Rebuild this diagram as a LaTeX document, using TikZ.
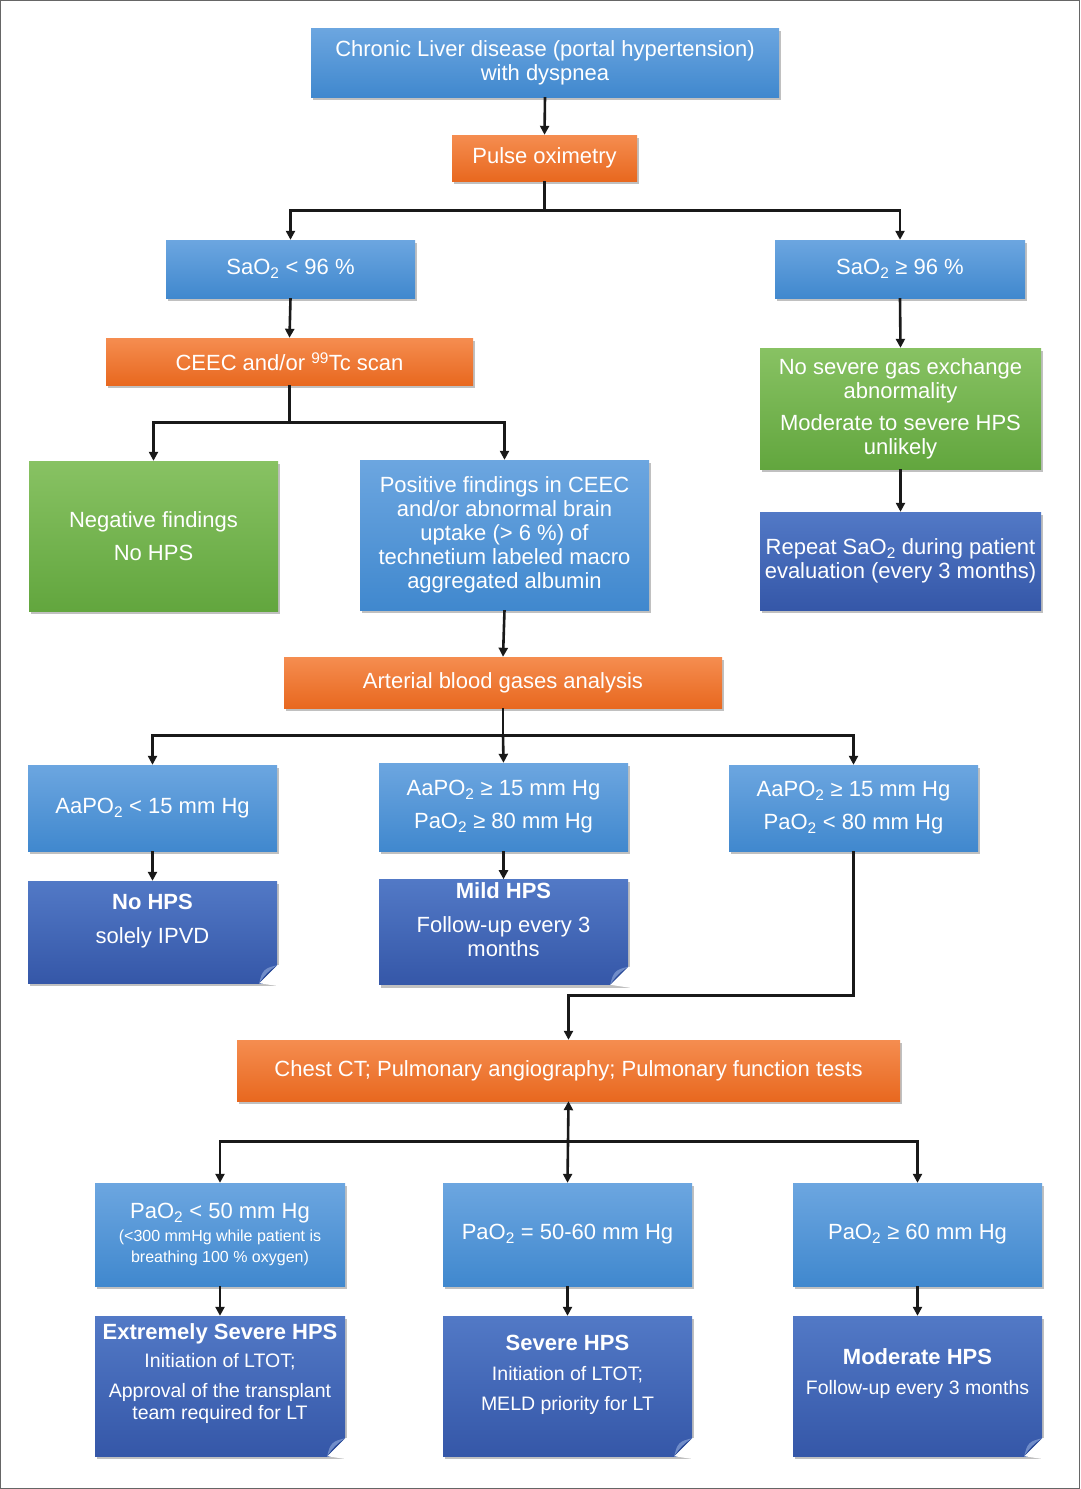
\documentclass[tikz,border=0pt]{standalone}
\usepackage{fontspec}
\setmainfont{Liberation Sans}
\usetikzlibrary{arrows.meta,shadows}
\definecolor{bT}{HTML}{6CA6E0}
\definecolor{bB}{HTML}{4088CE}
\definecolor{oT}{HTML}{F58D50}
\definecolor{oB}{HTML}{E8681F}
\definecolor{gT}{HTML}{88C263}
\definecolor{gB}{HTML}{62A63E}
\definecolor{dT}{HTML}{5279C6}
\definecolor{dB}{HTML}{3557A8}
\definecolor{foldc}{HTML}{2A4A98}
\newcommand\foldcorner[1]{%
  \fill[white] ([xshift=-18pt]#1.south east) -- ([xshift=2pt,yshift=-3pt]#1.south east) -- ([xshift=2pt,yshift=18pt]#1.south east) -- ([yshift=18pt]#1.south east) -- cycle;
  \fill[foldc] ([xshift=-18pt]#1.south east) .. controls ([xshift=-13pt,yshift=8pt]#1.south east) and ([xshift=-8pt,yshift=13pt]#1.south east) .. ([yshift=18pt]#1.south east) -- cycle;
  \fill[dT!60!white,opacity=0.6] ([xshift=-18pt]#1.south east) .. controls ([xshift=-15pt,yshift=13pt]#1.south east) and ([xshift=-13pt,yshift=15pt]#1.south east) .. ([yshift=18pt]#1.south east) .. controls ([xshift=-8pt,yshift=13pt]#1.south east) and ([xshift=-13pt,yshift=8pt]#1.south east) .. cycle;}
\tikzset{
  box/.style={draw=none, align=center, text=white, inner sep=3pt,
    font=\fontsize{22}{24}\selectfont,
    drop shadow={shadow xshift=2pt,shadow yshift=-3pt,opacity=0.35,fill=black!70}},
  bluebox/.style={box, top color=bT, bottom color=bB},
  orangebox/.style={box, top color=oT, bottom color=oB},
  greenbox/.style={box, top color=gT, bottom color=gB},
  darkbox/.style={box, top color=dT, bottom color=dB},
  sz/.style 2 args={minimum width=#1pt, minimum height=#2pt},
  conn/.style={draw=black!90, line width=2.6pt},
  arr/.style={conn, -{Triangle[length=9pt,width=9pt]}},
  darr/.style={conn, {Triangle[length=9pt,width=9pt]}-{Triangle[length=9pt,width=9pt]}},
}
\newcommand\sub[1]{\textsubscript{#1}}
\newcommand\smallf{\fontsize{16}{19}\selectfont}
\newcommand\midf{\fontsize{19.5}{24}\selectfont}
\newcommand\midtf{\fontsize{19.5}{22}\selectfont}
\begin{document}
\begin{tikzpicture}[x=1pt,y=-1pt]
\useasboundingbox (0,0) rectangle (1080,1489);
\fill[white] (0,0) rectangle (1080,1489);
\draw[black!60, line width=1.2pt] (0.6,0.6) rectangle (1079.4,1488.4);

% row 1
\node[bluebox, sz={468}{69}] (top) at (545,62.5) {Chronic Liver disease (portal hypertension)\\with dyspnea};
\node[orangebox, sz={185}{46}] (pulse) at (544.5,158) {Pulse oximetry};
\node[bluebox, sz={249}{58}] (sl) at (290.5,269) {SaO\sub{2} < 96 \%};
\node[bluebox, sz={250}{58}] (sr) at (900,269) {SaO\sub{2} ≥ 96 \%};
\node[orangebox, sz={367}{47}] (ceec) at (289.5,361.5) {CEEC and/or \textsuperscript{99}Tc scan};
\node[greenbox, sz={281}{121}] (nosev) at (900.5,408.5) {No severe gas exchange\\abnormality\\[8pt]Moderate to severe HPS\\unlikely};
\node[darkbox, sz={281}{98}] (rep) at (900.5,561) {Repeat SaO\sub{2} during patient\\evaluation (every 3 months)};
\node[greenbox, sz={249}{150}] (neg) at (153.5,536) {Negative findings\\[9pt]No HPS};
\node[bluebox, sz={289}{150}] (pos) at (504.5,535) {Positive findings in CEEC\\and/or abnormal brain\\uptake (> 6 \%) of\\technetium labeled macro\\aggregated albumin};
\node[orangebox, sz={438}{51}] (abg) at (503,682.5) {Arterial blood gases analysis};

\node[bluebox, sz={249}{86}] (a1) at (152.5,808) {AaPO\sub{2} < 15 mm Hg};
\node[bluebox, sz={249}{88}] (a2) at (503.5,807) {AaPO\sub{2} ≥ 15 mm Hg\\[9pt]PaO\sub{2} ≥ 80 mm Hg};
\node[bluebox, sz={249}{86}] (a3) at (853.5,808) {AaPO\sub{2} ≥ 15 mm Hg\\[9pt]PaO\sub{2} < 80 mm Hg};

\node[darkbox, sz={249}{102}] (d1) at (152.5,932) {\textbf{No HPS}\\[10pt]solely IPVD\\[-4pt]\strut};
\node[darkbox, sz={249}{102}] (d2) at (503.5,932) {\textbf{Mild HPS}\\[10pt]Follow-up every 3\\months\\[-6pt]\strut};
\foldcorner{d1}
\foldcorner{d2}

\node[orangebox, sz={663}{61}] (ct) at (568.5,1070.5) {Chest CT; Pulmonary angiography; Pulmonary function tests};

\node[bluebox, sz={250}{103}] (p1) at (220,1234.5) {PaO\sub{2} < 50 mm Hg\\[-1pt]\smallf (<300 mmHg while patient is\\[-3pt]\smallf breathing 100 \% oxygen)};
\node[bluebox, sz={249}{103}] (p2) at (567.5,1234.5) {PaO\sub{2} = 50-60 mm Hg};
\node[bluebox, sz={249}{103}] (p3) at (917.5,1234.5) {PaO\sub{2} ≥ 60 mm Hg};

\node[darkbox, sz={250}{140}] (e1) at (220,1386) {\textbf{Extremely Severe HPS}\\[4pt]\midf Initiation of LTOT;\\[6pt]\midf Approval of the transplant\\[-2pt]\midf team required for LT\\[-2pt]\strut};
\node[darkbox, sz={249}{140}] (e2) at (567.5,1386) {\textbf{Severe HPS}\\[6pt]\midf Initiation of LTOT;\\[6pt]\midf MELD priority for LT\\[-4pt]\strut};
\node[darkbox, sz={249}{140}] (e3) at (917.5,1386) {\textbf{Moderate HPS}\\[6pt]\midf Follow-up every 3 months\\[-2pt]\strut};
\foldcorner{e1}
\foldcorner{e2}
\foldcorner{e3}

% connectors
\draw[arr] (top.south) -- (pulse.north);
\draw[conn] (pulse.south) -- ++(0,29) coordinate (b1);
\draw[arr] (b1) -| (sl.north);
\draw[arr] (b1) -| (sr.north);
\draw[arr] (sl.south) -- (ceec.north);
\draw[arr] (sr.south) -- (nosev.north);
\draw[arr] (nosev.south) -- (rep.north);
\draw[conn] (ceec.south) -- ++(0,37) coordinate (b2);
\draw[arr] (b2) -| (neg.north);
\draw[arr] (b2) -| (pos.north);
\draw[arr] (pos.south) -- (abg.north);
\draw[conn] (abg.south) -- ++(0,27) coordinate (b3);
\draw[arr] (b3) -| (a1.north);
\draw[arr] (b3) -- (a2.north);
\draw[arr] (b3) -| (a3.north);
\draw[arr] (a1.south) -- (d1.north);
\draw[arr] (a2.south) -- (d2.north);
\draw[arr] (a3.south) -- ++(0,144) -| (ct.north);
\draw[darr] (ct.south) -- (p2.north);
\coordinate (b4) at ([yshift=-40pt]ct.south);
\draw[arr] (b4) -| (p1.north);
\draw[arr] (b4) -| (p3.north);
\draw[arr] (p1.south) -- (e1.north);
\draw[arr] (p2.south) -- (e2.north);
\draw[arr] (p3.south) -- (e3.north);
\end{tikzpicture}
\end{document}
